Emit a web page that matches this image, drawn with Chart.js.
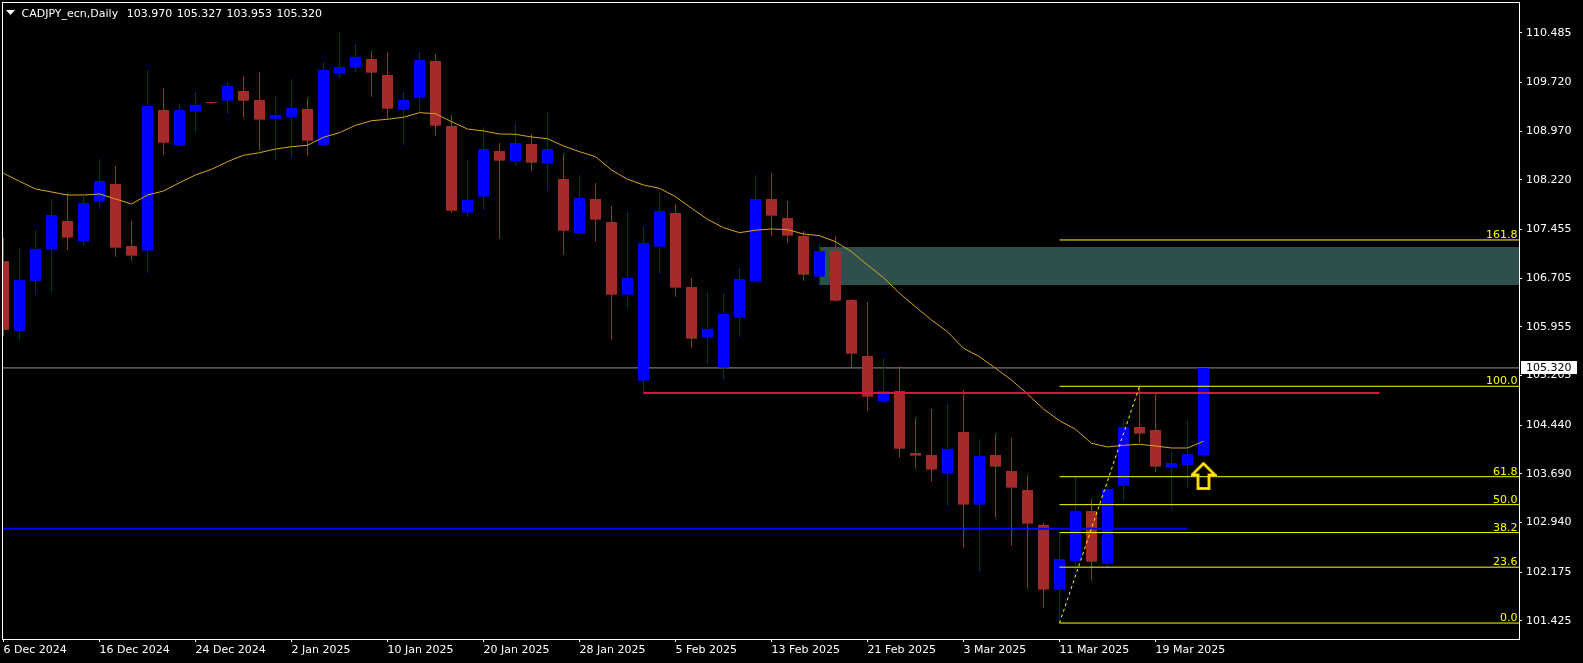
<!DOCTYPE html>
<html><head><meta charset="utf-8">
<script src="https://cdn.jsdelivr.net/npm/chart.js@4.4.1/dist/chart.umd.min.js"></script>
<style>html,body{margin:0;padding:0;background:#000;overflow:hidden}#wrap{width:1583px;height:663px}</style>
</head><body><div id="wrap"><canvas id="c" width="1583" height="663"></canvas></div>
<script>
const symbolTitle = 'CADJPY_ecn,Daily';
const ohlcHeader = ['103.970', '105.327', '103.953', '105.320'];
const tickIndex = [0, 6, 12, 18, 24, 30, 36, 42, 48, 54, 60, 66, 72];
const tickLabels = ['6 Dec 2024', '16 Dec 2024', '24 Dec 2024', '2 Jan 2025', '10 Jan 2025', '20 Jan 2025', '28 Jan 2025', '5 Feb 2025', '13 Feb 2025', '21 Feb 2025', '3 Mar 2025', '11 Mar 2025', '19 Mar 2025'];
const yTicks = [110.485, 109.720, 108.970, 108.220, 107.455, 106.705, 105.955, 105.205, 104.440, 103.690, 102.940, 102.175, 101.425];

const open = [106.967,105.889,106.659,107.142,107.584,107.265,107.881,108.154,107.199,107.126,
109.294,108.744,109.268,109.417,109.437,109.587,109.448,109.155,109.186,109.310,
108.755,109.853,109.946,110.080,109.833,109.299,109.484,110.049,109.048,107.712,
107.958,108.662,108.498,108.770,108.467,108.231,107.388,107.923,107.568,106.448,
105.123,107.188,107.707,106.567,105.786,105.324,106.094,106.649,107.923,107.630,
107.353,106.726,107.122,106.367,105.504,104.800,104.965,104.009,103.978,103.690,
104.333,103.213,103.978,103.732,103.439,102.900,101.903,102.345,103.116,102.304,
103.505,104.410,104.364,103.783,103.824,103.970];
const high = [107.322,107.172,107.445,107.923,108.011,107.958,108.539,108.431,107.589,109.910,
109.633,109.387,109.556,109.422,109.730,109.818,109.880,109.510,109.772,109.479,
110.034,110.481,110.296,110.203,110.188,109.556,110.172,110.157,109.217,108.524,
109.032,108.786,109.094,108.924,109.263,108.616,108.293,108.169,107.815,107.723,
107.507,108.031,107.846,106.706,106.479,106.464,106.844,108.293,108.323,107.892,
107.430,107.245,107.353,106.382,106.336,105.473,105.350,104.549,104.687,104.764,
104.980,104.225,104.302,104.245,103.675,102.931,102.797,103.655,103.300,103.532,
104.533,105.037,104.929,104.040,104.507,105.327];
const low = [105.812,105.761,106.448,106.479,107.137,107.214,107.769,107.034,106.972,106.787,
108.605,108.739,108.944,109.391,109.237,109.175,108.678,108.528,108.559,108.590,
108.739,109.792,109.884,109.499,109.155,108.755,109.263,108.898,107.712,107.650,
107.758,107.311,108.451,108.359,108.051,107.065,107.384,107.265,105.755,106.233,
104.925,106.772,106.418,105.632,105.385,105.154,105.801,106.633,107.357,107.250,
106.664,106.587,106.340,105.308,104.661,104.784,103.937,103.767,103.567,103.197,
102.550,102.196,103.012,102.581,101.918,101.626,101.389,102.206,102.042,102.242,
103.285,104.168,103.721,103.151,103.475,103.953];
const close = [105.904,106.675,107.152,107.676,107.327,107.861,108.200,107.172,107.049,109.356,
108.790,109.294,109.371,109.402,109.664,109.437,109.145,109.217,109.325,108.821,
109.910,109.957,110.111,109.869,109.314,109.448,110.064,109.052,107.743,107.907,
108.693,108.513,108.786,108.482,108.693,107.434,107.938,107.604,106.448,106.706,
107.245,107.738,106.556,105.770,105.920,106.151,106.690,107.923,107.666,107.357,
106.756,107.122,106.356,105.539,104.877,104.965,104.075,103.968,103.752,104.071,
103.213,103.963,103.798,103.475,102.920,101.903,102.376,103.116,102.334,103.455,
104.410,104.307,103.798,103.855,103.994,105.320];
const ma = [108.319,108.195,108.077,108.031,107.984,107.984,108.000,107.923,107.846,107.984,
108.046,108.174,108.293,108.380,108.498,108.596,108.636,108.693,108.729,108.750,
108.874,108.944,109.058,109.129,109.151,109.182,109.253,109.237,109.114,109.001,
108.971,108.924,108.920,108.878,108.852,108.739,108.652,108.575,108.370,108.226,
108.139,108.088,107.958,107.780,107.610,107.481,107.404,107.441,107.461,107.450,
107.384,107.357,107.265,107.111,106.906,106.710,106.470,106.263,106.058,105.878,
105.622,105.493,105.314,105.134,104.918,104.687,104.507,104.374,104.159,104.102,
104.128,104.143,104.117,104.086,104.086,104.190];

const bidPrice = 105.320;
const redLevel = [40, 86, 104.935];          // from candle, to candle, price
const blueLevel = [-2, 74, 102.843];
const zone = [51, 100, 107.183, 106.598];    // from, to, top, bottom
const fibAnchor = [66, 101.389, 71, 105.037]; // start idx, start price, end idx, end price
const fibRatios = [0, 23.6, 38.2, 50, 61.8, 100, 161.8];
const arrowPoint = [75, 103.655];

Chart.defaults.font.family = "'DejaVu Sans', sans-serif";
Chart.defaults.font.size = 11;
Chart.defaults.color = '#fff';

const idx = open.map((_, i) => i);
const BULL = '#0000FF', BEAR = '#A52A2A';
const candleColors = idx.map(i => close[i] >= open[i] ? BULL : BEAR);
const fibLevels = fibRatios.map(r => fibAnchor[1] + (fibAnchor[3] - fibAnchor[1]) * r / 100);
const hLine = (x0, x1, v) => [{x: x0, y: v}, {x: x1, y: v}];

// arrow icon
const arrowIcon = document.createElement('canvas');
arrowIcon.width = 26; arrowIcon.height = 28;
(function () {
  const g = arrowIcon.getContext('2d');
  g.beginPath();
  g.moveTo(13, 1.5); g.lineTo(24.5, 13); g.lineTo(18.5, 13); g.lineTo(18.5, 26.5);
  g.lineTo(7.5, 26.5); g.lineTo(7.5, 13); g.lineTo(1.5, 13); g.closePath();
  g.lineJoin = 'miter';
  g.strokeStyle = '#F0B000'; g.lineWidth = 3; g.stroke();
  g.strokeStyle = '#FFFF00'; g.lineWidth = 1.4; g.stroke();
})();

const lineBase = {type: 'line', pointRadius: 0, fill: false, tension: 0};

const datasets = [
  Object.assign({}, lineBase, {data: hLine(zone[0], zone[1], zone[2]), borderColor: 'transparent', borderWidth: 1, order: 20}),
  Object.assign({}, lineBase, {data: hLine(zone[0], zone[1], zone[3]), borderColor: 'transparent', borderWidth: 1, fill: '-1', backgroundColor: '#2F4F4F', order: 19}),
  Object.assign({}, lineBase, {data: hLine(-2, 100, bidPrice), borderColor: '#8f949a', borderWidth: 1, order: 15}),
  {type: 'bar', data: idx.map(i => ({x: i, y: [low[i], high[i]]})), backgroundColor: candleColors, barThickness: 1, grouped: false, inflateAmount: 0, borderWidth: 0, minBarLength: 1, order: 11},
  {type: 'bar', data: idx.map(i => ({x: i, y: [open[i], close[i]]})), backgroundColor: candleColors, barThickness: 11, grouped: false, inflateAmount: 0, borderWidth: 0, minBarLength: 1, order: 10},
  Object.assign({}, lineBase, {data: idx.map(i => ({x: i, y: ma[i]})), borderColor: '#DAA520', borderWidth: 1, order: 5}),
  Object.assign({}, lineBase, {data: hLine(redLevel[0], redLevel[1], redLevel[2]), borderColor: '#DC143C', borderWidth: 2, order: 4}),
  Object.assign({}, lineBase, {data: hLine(blueLevel[0], blueLevel[1], blueLevel[2]), borderColor: '#0000FF', borderWidth: 2, order: 4}),
  ...fibLevels.map(v => Object.assign({}, lineBase, {data: hLine(fibAnchor[0], 100, v), borderColor: '#FFFF00', borderWidth: 1, order: 3})),
  Object.assign({}, lineBase, {data: [{x: fibAnchor[0], y: fibAnchor[1]}, {x: fibAnchor[2], y: fibAnchor[3]}], borderColor: '#FFFF00', borderWidth: 1, borderDash: [3, 3], order: 2}),
  {type: 'line', showLine: false, data: [{x: arrowPoint[0], y: arrowPoint[1]}], pointStyle: arrowIcon, pointRadius: 13, order: 1}
];

const decor = {
  id: 'decor',
  afterDatasetsDraw(chart) {
    const {ctx, chartArea: a, scales: {y}} = chart;
    ctx.save();
    ctx.font = "11px 'DejaVu Sans'";
    ctx.fillStyle = '#FFFF00';
    ctx.textAlign = 'right';
    ctx.textBaseline = 'alphabetic';
    fibLevels.forEach((v, i) => ctx.fillText(fibRatios[i].toFixed(1), a.right - 1.5, y.getPixelForValue(v) - 2));
    ctx.restore();
  },
  afterDraw(chart) {
    const {ctx, chartArea: a, scales: {y}} = chart;
    ctx.save();
    ctx.strokeStyle = '#fff'; ctx.lineWidth = 1;
    ctx.strokeRect(a.left + 0.5, a.top + 0.5, a.right - a.left, a.bottom - a.top);
    // header
    ctx.fillStyle = '#fff';
    ctx.beginPath(); ctx.moveTo(6, 10); ctx.lineTo(15, 10); ctx.lineTo(10.5, 15); ctx.closePath(); ctx.fill();
    ctx.font = "11px 'DejaVu Sans'";
    ctx.textAlign = 'left'; ctx.textBaseline = 'alphabetic';
    let hx = 21.5;
    ctx.fillText(symbolTitle, hx, 17);
    hx += ctx.measureText(symbolTitle).width + 8.5;
    ohlcHeader.forEach(s => { ctx.fillText(s, hx, 17); hx += ctx.measureText(s).width + 4.5; });
    // bid price box
    const by = y.getPixelForValue(bidPrice);
    ctx.fillStyle = '#fff';
    ctx.fillRect(a.right + 2, Math.round(by) - 7, 56, 13);
    ctx.fillStyle = '#000';
    ctx.textBaseline = 'middle';
    ctx.fillText(bidPrice.toFixed(3), a.right + 7, by);
    ctx.restore();
  }
};

new Chart(document.getElementById('c'), {
  type: 'bar',
  data: {datasets},
  options: {
    responsive: false,
    animation: false,
    events: [],
    layout: {autoPadding: false, padding: {left: 2, top: 2, right: 0, bottom: 0}},
    plugins: {legend: {display: false}, tooltip: {enabled: false}},
    scales: {
      x: {
        type: 'linear', position: 'bottom', min: -0.09375, max: 94.71875, offset: false,
        grid: {display: true, drawOnChartArea: false, drawTicks: true, tickLength: 3, color: '#fff', offset: false},
        border: {display: false},
        ticks: {autoSkip: false, maxRotation: 0, minRotation: 0, align: 'start', padding: 2, color: '#fff', font: {size: 11},
          callback: (v, i) => tickLabels[i]},
        afterBuildTicks: s => { s.ticks = tickIndex.map(v => ({value: v})); },
        afterFit: s => { s.height = 24; s.paddingLeft = 0; s.paddingRight = 0; }
      },
      y: {
        type: 'linear', position: 'right', min: 101.143, max: 110.958, beginAtZero: false,
        grid: {display: true, drawOnChartArea: false, drawTicks: true, tickLength: 3, color: '#fff'},
        border: {display: false},
        ticks: {autoSkip: false, padding: 4, color: '#fff', font: {size: 11}, callback: v => Number(v).toFixed(3)},
        afterBuildTicks: s => { s.ticks = yTicks.map(v => ({value: v})); },
        afterFit: s => { s.width = 64; s.paddingTop = 0; s.paddingBottom = 0; }
      }
    }
  },
  plugins: [decor]
});
</script>
</body></html>
